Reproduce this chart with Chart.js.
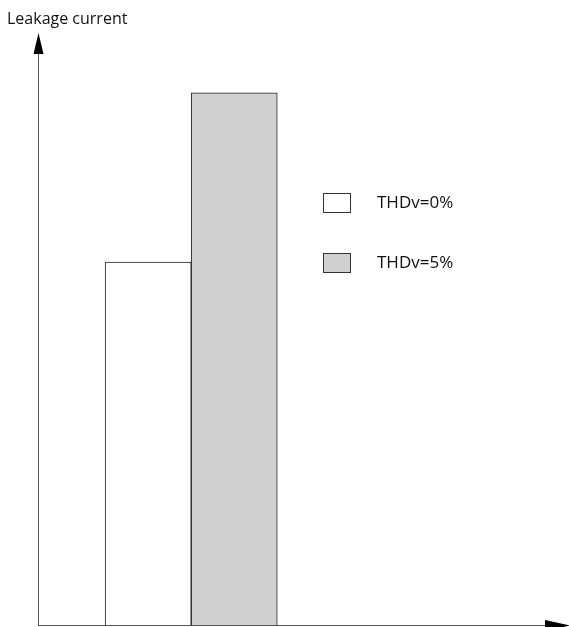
<!DOCTYPE html>
<html>
<head>
<meta charset="utf-8">
<script src="https://cdn.jsdelivr.net/npm/chart.js@4"></script>
<style>
  html, body { margin: 0; padding: 0; background: #fff; }
  canvas { display: block; }
</style>
</head>
<body>
<canvas id="grafico" width="569" height="627"></canvas>
<script>
// dados (unidades arbitrarias)
const series = ["THDv=0%", "THDv=5%"];
const posicoes = [1.28, 2.28];
const valores = [61.3, 89.9];
const cores = ["#ffffff", "#d0d0d0"];
const tituloEixoY = "Leakage current";

const fonte = "'Open Sans', sans-serif";

// eixos com setas + legenda + rotulo do eixo
const eixosPlugin = {
    id: "eixos",
    afterDraw(chart) {
        let ctx = chart.ctx;
        let area = chart.chartArea;
        let x0 = area.left, y0 = area.bottom;
        ctx.save();

        ctx.strokeStyle = "#555";
        ctx.lineWidth = 1;
        ctx.beginPath();
        ctx.moveTo(x0 + 0.5, y0 + 0.5);
        ctx.lineTo(x0 + 0.5, area.top + 20);
        ctx.moveTo(x0, y0 + 0.5);
        ctx.lineTo(area.right - 20, y0 + 0.5);
        ctx.stroke();

        ctx.fillStyle = "#000";
        ctx.beginPath();
        ctx.moveTo(x0 + 0.5, area.top);
        ctx.lineTo(x0 + 5.5, area.top + 21);
        ctx.lineTo(x0 - 4.5, area.top + 21);
        ctx.closePath();
        ctx.fill();

        ctx.beginPath();
        ctx.moveTo(area.right + 1, y0 + 0.5);
        ctx.lineTo(area.right - 24, y0 - 5);
        ctx.lineTo(area.right - 24, y0 + 6);
        ctx.closePath();
        ctx.fill();

        ctx.fillStyle = "#111";
        ctx.font = "16px " + fonte;
        ctx.textBaseline = "alphabetic";
        ctx.textAlign = "left";
        ctx.fillText(tituloEixoY, 7, 24);

        // legenda
        ctx.font = "17px " + fonte;
        chart.data.datasets.forEach((ds, i) => {
            let bx = 323, by = 193 + i * 60;
            ctx.fillStyle = ds.backgroundColor;
            ctx.fillRect(bx, by, 27, 19);
            ctx.strokeStyle = "#333";
            ctx.strokeRect(bx + 0.5, by + 0.5, 27, 19);
            ctx.fillStyle = "#111";
            ctx.fillText(ds.label, 377, by + 15);
        });
        ctx.restore();
    }
};

let datasets = series.map((nome, i) => ({
    label: nome,
    data: [{ x: posicoes[i], y: valores[i] }],
    backgroundColor: cores[i],
    borderColor: "#222",
    borderWidth: 1,
    borderSkipped: "bottom",
    barPercentage: 1,
    categoryPercentage: 1,
    grouped: false
}));

let ctx = document.getElementById("grafico").getContext("2d");
window.myChart = new Chart(ctx, {
    type: "bar",
    data: { datasets: datasets },
    options: {
        responsive: false,
        animation: false,
        devicePixelRatio: 1,
        layout: {
            padding: { left: 38, top: 33, right: 0, bottom: 2 }
        },
        scales: {
            x: {
                type: "linear",
                offset: false,
                min: 0,
                max: 6.17,
                afterBuildTicks: (escala) => {
                    escala.ticks = escala.ticks.filter(t => Number.isInteger(t.value));
                },
                ticks: { display: false, stepSize: 1 },
                grid: { display: false, drawTicks: false },
                border: { display: false }
            },
            y: {
                min: 0,
                max: 100,
                ticks: { display: false },
                grid: { display: false, drawTicks: false },
                border: { display: false }
            }
        },
        plugins: {
            legend: { display: false },
            tooltip: { enabled: false },
            title: { display: false }
        }
    },
    plugins: [eixosPlugin]
});
</script>
</body>
</html>
